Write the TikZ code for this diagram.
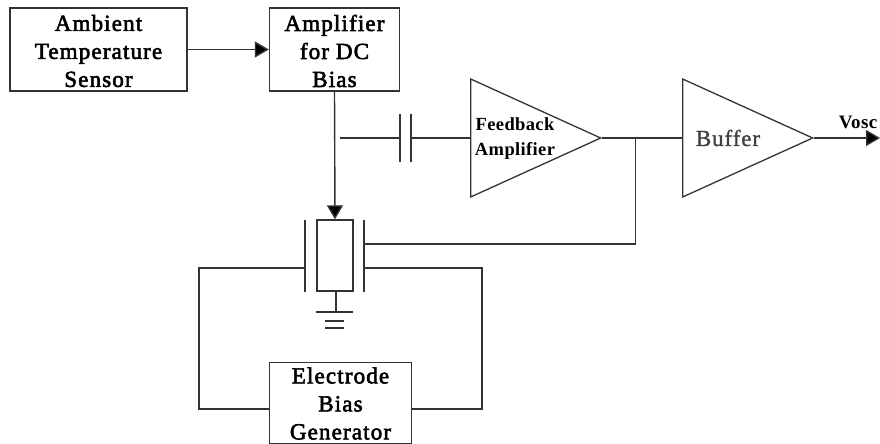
\documentclass[tikz,border=0pt]{standalone}
\usepackage{fontspec}
\setmainfont{Liberation Serif}
\newfontfamily\blockfont[LetterSpace=5,FakeBold=2.5]{Liberation Serif}
\newfontfamily\boldfont[LetterSpace=2]{Liberation Serif Bold}
\newfontfamily\bufffont[LetterSpace=4,FakeBold=1.2]{Liberation Serif}
\usetikzlibrary{arrows.meta,shapes.geometric,positioning}
\tikzset{
  wire/.style={line width=1.4pt,draw=black!80},
  arrowwire/.style={wire,-{Triangle[length=14pt,width=16pt,fill=black]}},
  block/.style={draw=black!80,line width=1.4pt,rectangle,inner sep=0pt,align=center},
  amp/.style={draw=black!80,line width=1.3pt,isosceles triangle,isosceles triangle stretches,inner sep=0pt,minimum width=118pt,minimum height=130pt,anchor=lower side},
  lab/.style={inner sep=0pt,align=center},
  blocktext/.style={lab,font=\fontsize{23}{28}\selectfont\blockfont},
}
\begin{document}
\begin{tikzpicture}[x=1pt,y=-1pt]
\useasboundingbox (0,0) rectangle (880,444);
% blocks
\node[block,minimum width=177pt,minimum height=83pt] (sensor) at (98.5,49.5) {};
\node[blocktext] (sensortext) at (98.5,51) {Ambient\\Temperature\\Sensor};
\node[block,minimum width=130pt,minimum height=83pt] (dcamp) at (334.5,49.5) {};
\node[blocktext] (dcamptext) at (334.5,51) {Amplifier\\for DC\\Bias};
\node[block,minimum width=142pt,minimum height=81pt] (gen) at (340.5,403) {};
\node[blocktext] (gentext) at (340.5,403.5) {Electrode\\Bias\\Generator};
% amplifiers
\node[amp] (fb) at (470,138) {};
\node[amp] (buf) at (682,138) {};
\node[lab,font=\fontsize{18.5}{25}\selectfont\boldfont] (fbtext) at (515,139) {Feedback\\Amplifier};
\node[lab,font=\fontsize{23}{26}\selectfont\bufffont,text=black!75] (buftext) at (728,138) {Buffer};
\node[lab,anchor=base,font=\fontsize{19}{22}\selectfont\boldfont] (vosc) at (858,128) {Vosc};
% crystal
\node[draw=black!80,line width=1.4pt,rectangle,inner sep=0pt,minimum width=36pt,minimum height=71pt] (xtal) at (335,255.5) {};
% helper coordinates
\coordinate (plL1) at (305,220); \coordinate (plL2) at (305,292);
\coordinate (plR1) at (364,220); \coordinate (plR2) at (364,292);
\coordinate (capL1) at (400,114); \coordinate (capL2) at (400,162);
\coordinate (capR1) at (411,114); \coordinate (capR2) at (411,162);
\coordinate (capIn) at (340,138);
\coordinate (junc) at (635.5,138);
\coordinate (out) at (880,138);
\coordinate (gnd) at (336,312);
% connectors
\draw[arrowwire] (sensor.east) -- (dcamp.west);
\draw[arrowwire] (dcamp.south) -- (xtal.north);
\draw[wire] (capIn) -- (capIn -| capL1);
\draw[wire] (capL1) -- (capL2);
\draw[wire] (capR1) -- (capR2);
\draw[wire] (capIn -| capR1) -- (fb.lower side);
\draw[wire] (fb.apex) -- (buf.lower side);
\draw[arrowwire] (buf.apex) -- (out);
\draw[wire] (plL1) -- (plL2);
\draw[wire] (plR1) -- (plR2);
\draw[wire] (junc) -- (junc |- 0,244) -- (plR1 |- 0,244);
\draw[wire] (plL1 |- 0,268) -- (199,268) -- (199,409) -- (gen.west |- 0,409);
\draw[wire] (plR1 |- 0,268) -- (482,268) -- (482,409) -- (gen.east |- 0,409);
% ground
\draw[wire] (gnd |- xtal.south) -- (gnd);
\draw[wire] (316,312) -- (353,312);
\draw[wire] (325,321) -- (344,321);
\draw[wire] (325,328) -- (344,328);
\end{tikzpicture}
\end{document}
